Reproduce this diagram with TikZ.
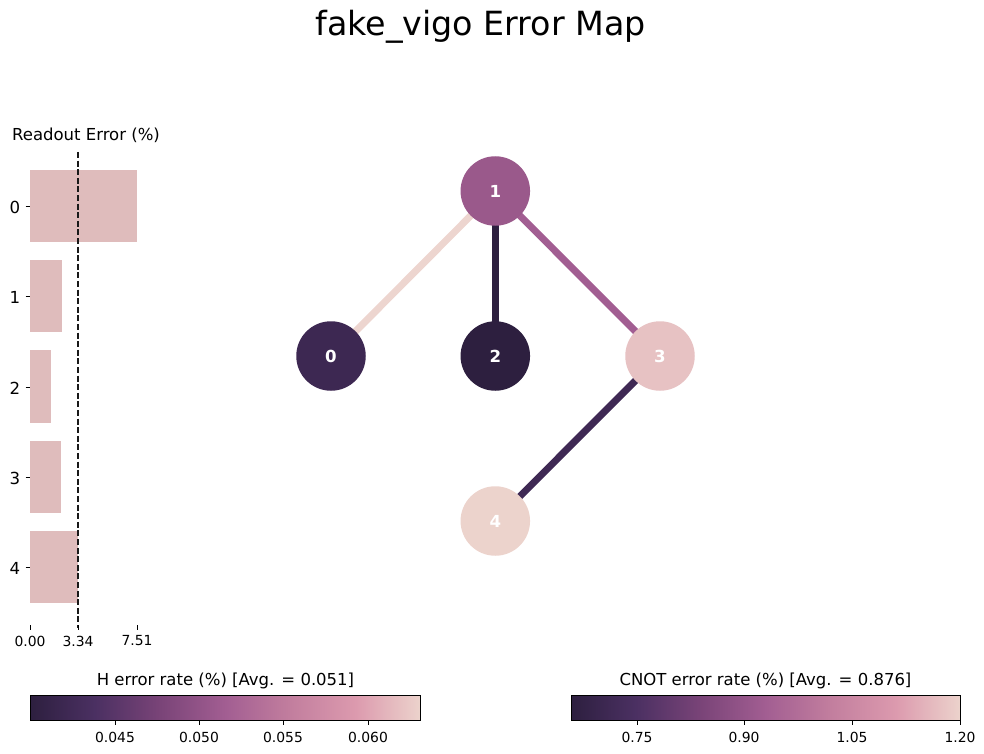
\documentclass[tikz,border=0pt]{standalone}
\usepackage{fontspec}
\setmainfont{DejaVu Sans}
\definecolor{cA}{HTML}{2D1F3F}
\definecolor{cB}{HTML}{4B3062}
\definecolor{cC}{HTML}{7A4478}
\definecolor{cD}{HTML}{A25E92}
\definecolor{cE}{HTML}{C27E9E}
\definecolor{cF}{HTML}{DC9AAE}
\definecolor{cG}{HTML}{ECD3CC}
\definecolor{barc}{HTML}{DFBCBC}
\pgfdeclarehorizontalshading{errmap}{100bp}{color(0bp)=(cA);color(25bp)=(cA);color(33.3bp)=(cB);color(41.7bp)=(cC);color(50bp)=(cD);color(58.3bp)=(cE);color(66.7bp)=(cF);color(75bp)=(cG);color(100bp)=(cG)}
\tikzset{
  qubit/.style={circle,minimum size=69.5pt,inner sep=0pt,text=white,font=\fontsize{16.6}{16.6}\selectfont\bfseries},
  link/.style={line width=7pt},
  bar/.style={fill=barc,draw=none},
  tick/.style={line width=0.8pt,black},
  ticklab/.style={font=\fontsize{13.9}{13.9}\selectfont,text=black,inner sep=0pt},
  ylab/.style={font=\fontsize{16.6}{16.6}\selectfont,text=black,inner sep=0pt},
  cbtitle/.style={font=\fontsize{16.5}{16.5}\selectfont,text=black,inner sep=0pt},
  cbar/.style={shading=errmap,draw=black,line width=0.9pt}
}
\begin{document}
\begin{tikzpicture}[x=1pt,y=-1pt]
\useasboundingbox (0,0) rectangle (984,754);
\node[inner sep=0pt,font=\fontsize{33.3}{33.3}\selectfont,text=black] (title) at (480.5,26.5) {fake\_vigo Error Map};
\node[cbtitle] (rt) at (86,135.5) {Readout Error (\%)};
% bars
\fill[bar] (30,170) rectangle (137,242);
\fill[bar] (30,260) rectangle (62,332);
\fill[bar] (30,350) rectangle (51,423);
\fill[bar] (30,441) rectangle (61,513);
\fill[bar] (30,531) rectangle (78,603);
\coordinate (dt) at (78,152);
\coordinate (db) at (78,628);
\draw[black!90,line width=1.5pt,dash pattern=on 6pt off 2.6pt] (dt) -- (db);
% y ticks
\foreach \y/\t in {206.5/0,296.5/1,387/2,477.5/3,567.5/4}{
  \draw[tick] (25.5,\y) -- (30,\y);
  \node[ylab] at (15,\y+1) {\t};
}
% x ticks
\foreach \x/\t in {30/0.00,78/3.34,137/7.51}{
  \draw[tick] (\x,625) -- (\x,630);
  \node[ticklab] at (\x,641) {\t};
}
% graph
\node[qubit] (q1) at (495.3,191) {};
\node[qubit] (q0) at (331,356) {};
\node[qubit] (q2) at (495.3,356) {};
\node[qubit] (q3) at (660,356) {};
\node[qubit] (q4) at (495.3,521) {};
\draw[link,color=cG!95!white] (q1.center) -- (q0.center);
\draw[link,color=cA] (q1.center) -- (q2.center);
\draw[link,color=cD] (q1.center) -- (q3.center);
\draw[link,color=cB!60!cA] (q3.center) -- (q4.center);
\node[qubit,fill=cB!55!cA] at (q0) {0};
\node[qubit,fill=cD!95!black] at (q1) {1};
\node[qubit,fill=cA] at (q2) {2};
\node[qubit,fill=cG!70!cF] at (q3) {3};
\node[qubit,fill=cG] at (q4) {4};
% H colourbar
\node[cbtitle] (ht) at (225.5,681) {H error rate (\%) [Avg. = 0.051]};
\draw[cbar] (30,695) rectangle (420.5,720);
\foreach \x/\t in {115/0.045,199/0.050,283/0.055,368/0.060}{
  \draw[tick] (\x,720) -- (\x,725);
  \node[ticklab] at (\x,737) {\t};
}
% CNOT colourbar
\node[cbtitle] (ct) at (765.5,681) {CNOT error rate (\%) [Avg. = 0.876]};
\draw[cbar] (571,695) rectangle (960.5,720);
\foreach \x/\t in {637/0.75,744/0.90,852/1.05,960/1.20}{
  \draw[tick] (\x,720) -- (\x,725);
  \node[ticklab] at (\x,737) {\t};
}
\end{tikzpicture}
\end{document}
